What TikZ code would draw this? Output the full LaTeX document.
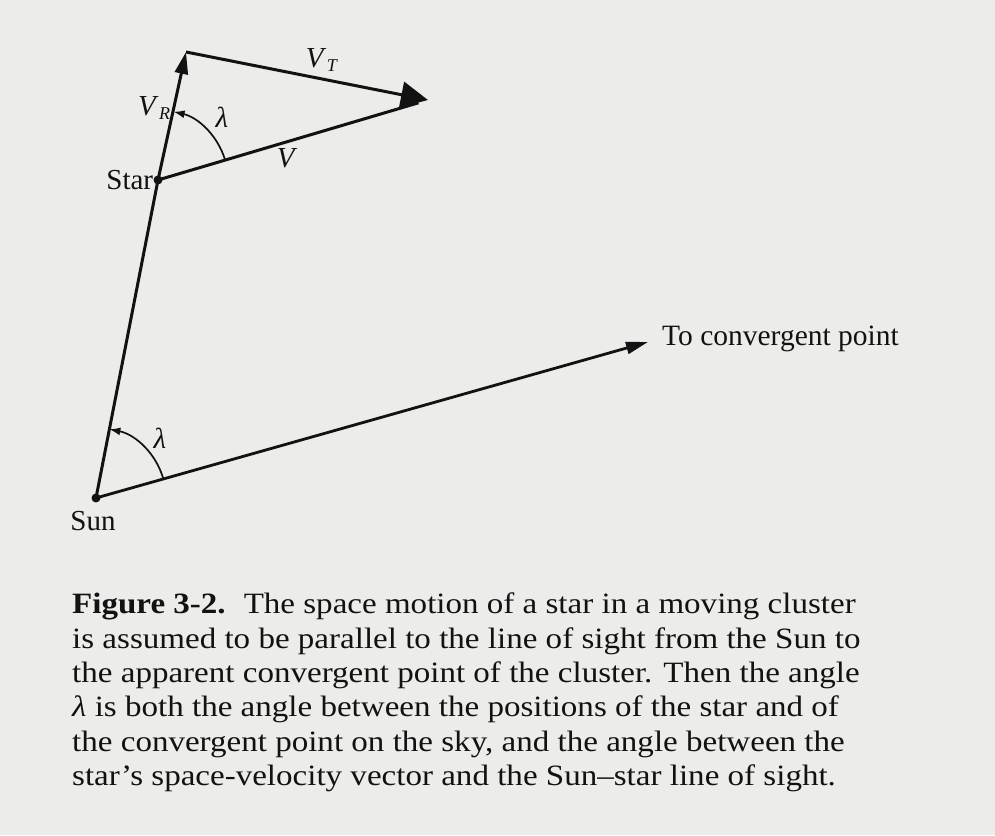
\documentclass[tikz,border=0pt]{standalone}
\usepackage{fontspec}
\setmainfont{Liberation Serif}
\newfontfamily\capfont[FakeStretch=1.12]{Liberation Serif}
\usetikzlibrary{arrows.meta,positioning}
\definecolor{paper}{RGB}{236,236,234}
\definecolor{ink}{RGB}{18,18,18}
\newcommand{\vcomp}[1]{\textit{V}\kern0.5pt\raisebox{-0.35ex}{\fontsize{18}{18}\selectfont\textit{#1}}}

\begin{document}
\begin{tikzpicture}[
  x=1pt,y=1pt,
  font=\fontsize{29}{34}\selectfont,
  vector/.style={-{Triangle[length=27pt,width=26pt]},line width=3pt,draw=ink},
  radial/.style={-{Triangle[length=22pt,width=13pt]},line width=3pt,draw=ink},
  sight/.style={line width=3pt,draw=ink},
  farsight/.style={-{Triangle[length=22pt,width=12pt]},line width=2.8pt,draw=ink},
  anglearc/.style={-{Latex[length=11pt,width=8pt]},line width=1.7pt,draw=ink},
  dot/.style={circle,fill=ink,inner sep=0pt,minimum size=9pt},
  label/.style={text=ink,inner sep=0pt},
  caption/.style={font=\capfont\fontsize{29.5}{34.3}\selectfont,align=left,text=ink,inner sep=0pt}
]
\fill[paper] (0,0) rectangle (995,835);
\useasboundingbox (0,0) rectangle (995,835);

% Positions of the Sun, the star and the tips of the vectors.
\node[dot] (sun) at (96,337) {};
\node[dot] (star) at (158,655) {};
\coordinate (apex) at (186,783);
\coordinate (vtip) at (428,735);
\coordinate (conv) at (648,493);

\node[label,left=0pt of star] (starname) {Star};
\node[label,below=8pt of sun,xshift=-3pt] (sunname) {Sun};

% Line of sight and direction to the convergent point.
\draw[sight] (sun.center) -- (star.center);
\draw[farsight] (sun.center) -- (conv);
\node[label,right=14pt of conv,yshift=3pt,font=\fontsize{29.5}{34}\selectfont] (convname) {To convergent point};

% Velocity triangle.
\draw[radial] (star.center) -- (apex);
\draw[vector] (apex) -- (vtip);
\draw[sight,shorten >=10pt] (star.center) -- (vtip);

\node[label] (vr) at (154,727) {\vcomp{R}};
\node[label] (vt) at (322,775) {\vcomp{T}};
\node[label] (v) at (287,677) {\textit{V}};

% The two equal angles.
\draw[anglearc] ([shift={(16.4:70)}]star.center) arc[start angle=16.4,end angle=77.1,radius=70];
\draw[anglearc] ([shift={(15.8:70)}]sun.center) arc[start angle=15.8,end angle=79,radius=70];
\node[label] (lamtop) at (222,718) {\textit{λ}};
\node[label] (lamsun) at (160,397) {\textit{λ}};

% Caption below the figure.
\node[caption,anchor=north west] (cap) at (72,242) {\textbf{Figure 3-2.}\hspace{18pt}The space motion of a star in a moving cluster\\
is assumed to be parallel to the line of sight from the Sun to\\
the apparent convergent point of the cluster. Then the angle\\
\textit{λ} is both the angle between the positions of the star and of\\
the convergent point on the sky, and the angle between the\\
star’s space-velocity vector and the Sun–star line of sight.};
\end{tikzpicture}
\end{document}
